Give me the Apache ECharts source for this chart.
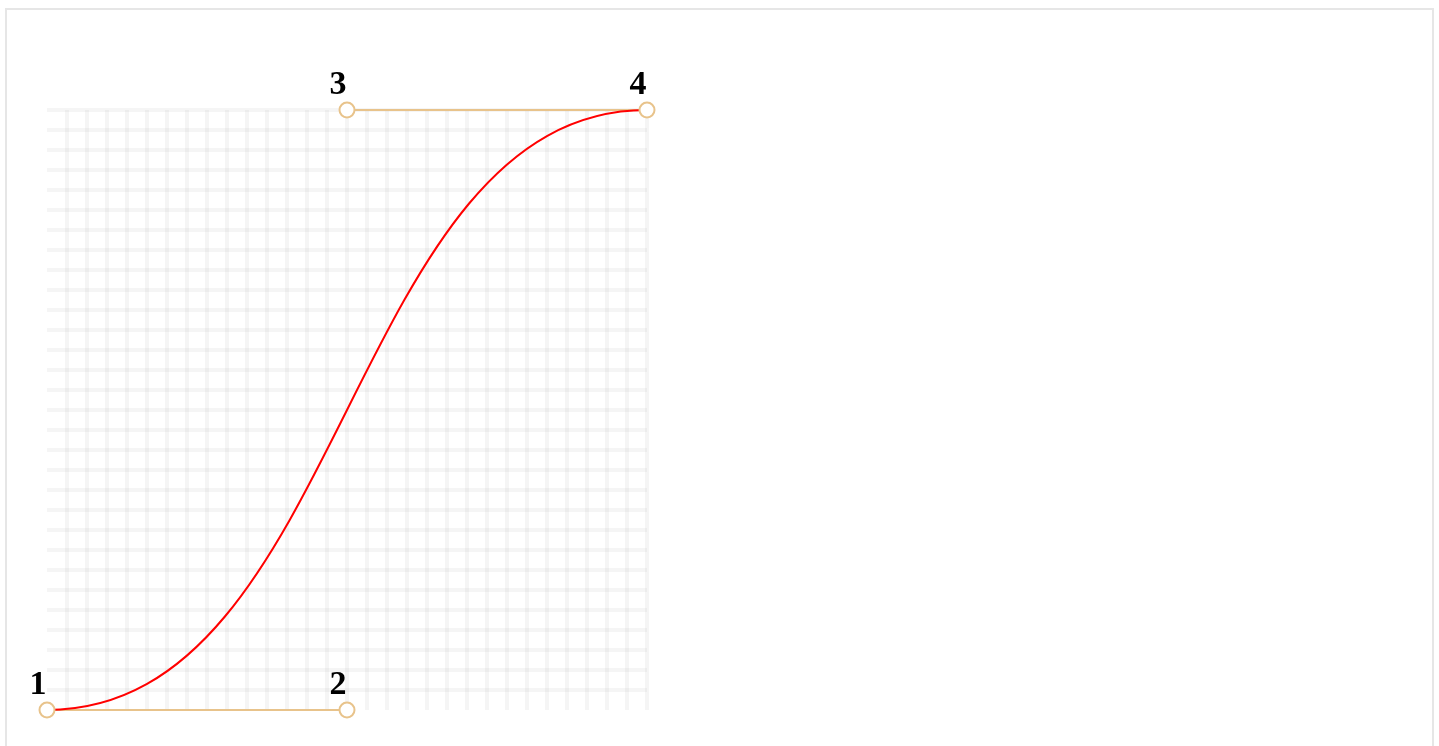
<!DOCTYPE html>
<html>
<head>
<meta charset="utf-8">
<script src="https://cdn.jsdelivr.net/npm/echarts@6/dist/echarts.min.js"></script>
<style>
html,body{margin:0;padding:0;background:#fff;overflow:hidden;}
#frame{position:absolute;left:5px;top:8px;width:1425px;height:760px;border:2px solid #e6e6e6;pointer-events:none;z-index:2;}
#main{position:absolute;left:0;top:0;width:1439px;height:746px;}
</style>
</head>
<body>
<div id="main"></div>
<div id="frame"></div>
<script>
// Control points of the cubic Bezier curve (x, y in unit square)
const pointLabels = ['1', '2', '3', '4'];
const pointX = [0, 0.5, 0.5, 1];
const pointY = [0, 0, 1, 1];
const gridDivisions = 30;

const points = pointX.map((x, i) => [x, pointY[i]]);
const handleColor = '#e8c38b';

const chart = echarts.init(document.getElementById('main'), null, {renderer: 'canvas'});
const splitStyle = {color: 'rgba(0,0,0,0.04)', width: 4, shadowBlur: 4, shadowColor: 'rgba(0,0,0,0.05)'};
const option = {
  animation: false,
  grid: {left: 47, top: 110, width: 600, height: 600},
  xAxis: {
    type: 'value', min: 0, max: 1, interval: 1 / gridDivisions,
    axisLine: {show: false}, axisTick: {show: false}, axisLabel: {show: false},
    splitLine: {show: true, showMinLine: false, showMaxLine: false, lineStyle: splitStyle}
  },
  yAxis: {
    type: 'value', min: 0, max: 1, interval: 1 / gridDivisions,
    axisLine: {show: false}, axisTick: {show: false}, axisLabel: {show: false},
    splitLine: {show: true, showMinLine: false, showMaxLine: false, lineStyle: splitStyle}
  },
  series: [
    {
      type: 'line', data: [points[0], points[1]], showSymbol: false, silent: true,
      lineStyle: {color: handleColor, width: 2}, z: 2
    },
    {
      type: 'line', data: [points[2], points[3]], showSymbol: false, silent: true,
      lineStyle: {color: handleColor, width: 2}, z: 2
    },
    {
      type: 'custom', z: 3, silent: true,
      data: [[points[0][0], points[0][1], points[1][0], points[1][1], points[2][0], points[2][1], points[3][0], points[3][1]]],
      renderItem: function (params, api) {
        const p1 = api.coord([api.value(0), api.value(1)]);
        const c1 = api.coord([api.value(2), api.value(3)]);
        const c2 = api.coord([api.value(4), api.value(5)]);
        const p2 = api.coord([api.value(6), api.value(7)]);
        return {
          type: 'bezierCurve',
          shape: {x1: p1[0], y1: p1[1], cpx1: c1[0], cpy1: c1[1], cpx2: c2[0], cpy2: c2[1], x2: p2[0], y2: p2[1]},
          style: {stroke: '#ff0000', lineWidth: 2, fill: null}
        };
      }
    },
    {
      type: 'scatter', z: 4,
      data: points.map((p, i) => ({value: p, name: pointLabels[i]})),
      symbol: 'circle', symbolSize: 15,
      itemStyle: {color: '#fff', borderColor: handleColor, borderWidth: 2, opacity: 1},
      label: {
        show: true, position: 'top', offset: [-9, 5], distance: 4,
        formatter: '{b}',
        fontFamily: '"Liberation Serif", "Times New Roman", serif',
        fontWeight: 'bold', fontSize: 34, lineHeight: 34, color: '#000'
      }
    }
  ]
};
chart.setOption(option);
</script>
</body>
</html>
